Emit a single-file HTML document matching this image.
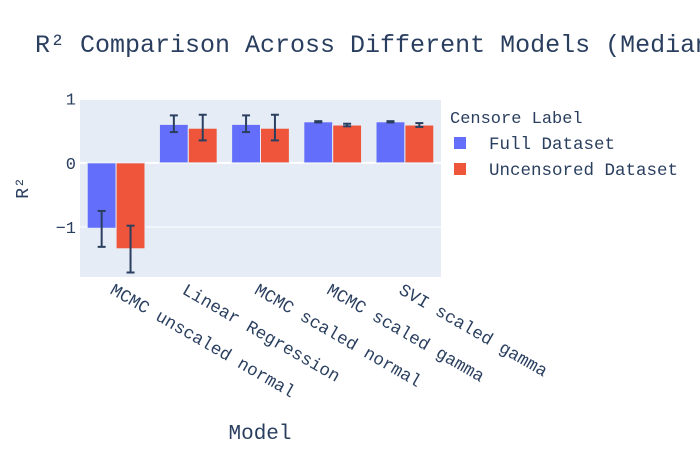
<!DOCTYPE html>
<html><head><meta charset="utf-8"><style>
body{margin:0;background:#fff}
svg text{font-family:"Liberation Mono",monospace;fill:#2a3f5f}
</style></head><body>
<svg id="chart" width="700" height="450">
<text x="35" y="52" font-size="25">R² Comparison Across Different Models (Median R² with 95% CI)</text>
<rect x="80" y="100" width="361" height="177" fill="#e5ecf6"/>
<g id="grid"></g><g id="bars"></g><g id="xlabels"></g>
<text x="260" y="439" font-size="21" text-anchor="middle">Model</text>
<text transform="translate(28,188) rotate(-90)" font-size="18" text-anchor="middle">R²</text>
<g>
<text x="450" y="123" font-size="17">Censore Label</text>
<g><rect x="454" y="137" width="12" height="12" fill="#636efa"/><text x="489" y="149" font-size="17.5">Full Dataset</text></g>
<g><rect x="454" y="163" width="12" height="12" fill="#EF553B"/><text x="489" y="175" font-size="17.5">Uncensored Dataset</text></g>
</g>
</svg>
<script>
const categories=["MCMC unscaled normal","Linear Regression","MCMC scaled normal","MCMC scaled gamma","SVI scaled gamma"];
const fullVals=[-1.02,0.60,0.60,0.64,0.64];
const fullLo=[-1.31,0.48,0.48,0.63,0.63];
const fullHi=[-0.75,0.74,0.74,0.65,0.65];
const uncVals=[-1.34,0.54,0.54,0.59,0.59];
const uncLo=[-1.71,0.35,0.35,0.57,0.56];
const uncHi=[-0.98,0.75,0.75,0.61,0.62];
const yTicks=[1,0,-1];
const yTickLabels=["1","0","\u22121"];
const NS="http://www.w3.org/2000/svg";
const X0=80,X1=441,Y0=100,Y1=277,yMin=-1.78,yMax=0.98;
const y=v=>Y1-(v-yMin)/(yMax-yMin)*(Y1-Y0);
const band=(X1-X0)/categories.length;
const xc=i=>X0+band*(i+0.5);
function mk(tag,attrs,parent){const e=document.createElementNS(NS,tag);for(const k in attrs)e.setAttribute(k,attrs[k]);parent.appendChild(e);return e;}
const grid=document.getElementById('grid'),bars=document.getElementById('bars'),xl=document.getElementById('xlabels');
yTicks.forEach((t,i)=>{
 const l=mk('line',{x1:X0,x2:X1,y1:y(t),y2:y(t),stroke:'#fff','stroke-width':t===0?2:1},grid);
 
 
 const tx=mk('text',{x:X0-4,y:y(t)+6,'font-size':17,'text-anchor':'end'},grid);
 tx.textContent=yTickLabels[i];
 
 
});
const bw=band*0.8/2;
function series(vals,lo,hi,color,off,name){
 vals.forEach((v,i)=>{
  const x=xc(i)-band*0.4+off*bw;
  const r=mk('rect',{x:x,y:Math.min(y(v),y(0)),width:bw,height:Math.abs(y(v)-y(0)),fill:color,stroke:'#e5ecf6','stroke-width':1},bars);
  
  
  const cx=x+bw/2;
  const g=mk('g',{stroke:'#2a3f5f','stroke-width':2},bars);
  
  
  mk('line',{x1:cx,x2:cx,y1:y(lo[i]),y2:y(hi[i])},g);
  mk('line',{x1:cx-4,x2:cx+4,y1:y(lo[i]),y2:y(lo[i])},g);
  mk('line',{x1:cx-4,x2:cx+4,y1:y(hi[i]),y2:y(hi[i])},g);
 });
}
series(fullVals,fullLo,fullHi,'#636efa',0,'full');
series(uncVals,uncLo,uncHi,'#EF553B',1,'uncensored');
categories.forEach((c,i)=>{
 const t=mk('text',{transform:`translate(${xc(i)-7},${293}) rotate(30)`,'font-size':17.5},xl);
 t.textContent=c;
 
 
});
</script>
</body></html>
